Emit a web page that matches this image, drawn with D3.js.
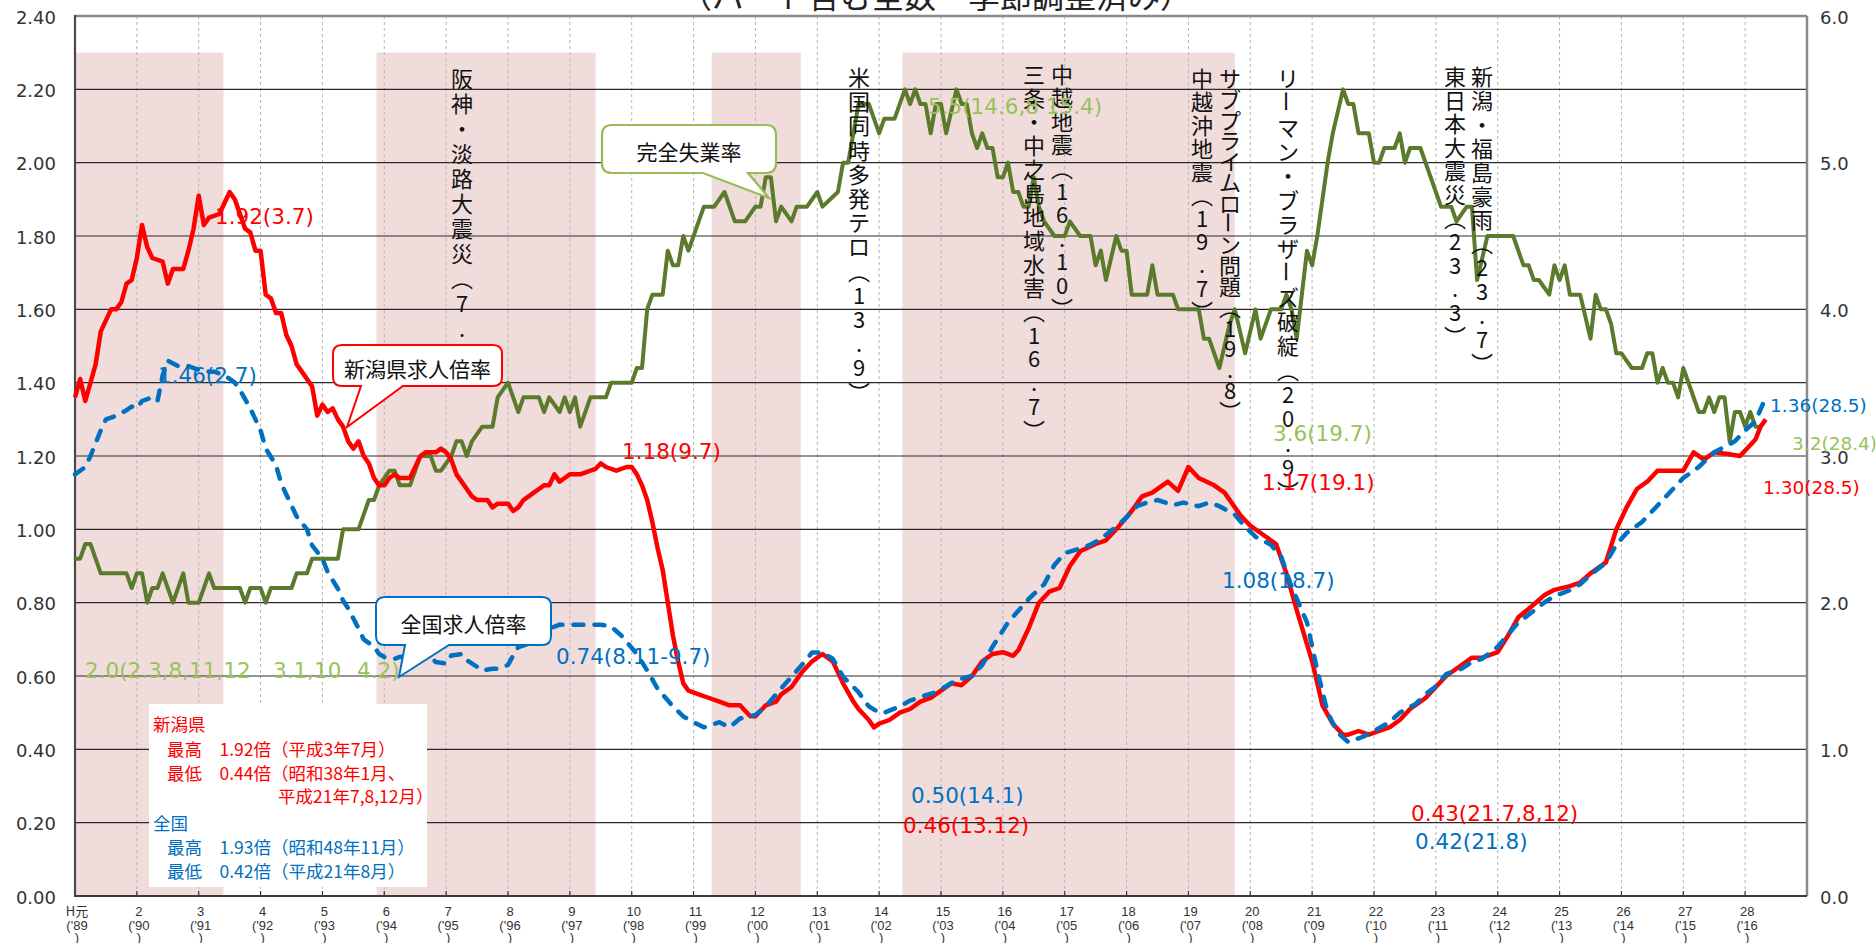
<!DOCTYPE html>
<html>
<head>
<meta charset="utf-8">
<script src="https://cdn.jsdelivr.net/npm/d3@7"></script>
<style>
  html, body { margin: 0; padding: 0; background: #fff; }
</style>
</head>
<body>
<div id="chart"></div>
<script>
// months counted from Jan 1989 (H元.1 = 0)
const niigataRatio = [[0,1.36],[1,1.41],[2,1.35],[4,1.45],[5,1.54],[7,1.60],[8,1.60],[9,1.62],[10,1.67],[11,1.68],[12,1.74],[13,1.83],[14,1.77],[15,1.74],[17,1.73],[18,1.67],[19,1.71],[21,1.71],[22,1.76],[23,1.82],[24,1.91],[25,1.83],[26,1.85],[28,1.86],[29,1.89],[30,1.92],[31,1.90],[32,1.86],[33,1.82],[34,1.81],[35,1.76],[36,1.76],[37,1.64],[38,1.63],[39,1.59],[40,1.59],[41,1.53],[42,1.50],[43,1.45],[44,1.43],[45,1.41],[46,1.39],[47,1.31],[48,1.34],[49,1.32],[50,1.33],[51,1.30],[52,1.28],[53,1.24],[54,1.22],[55,1.24],[56,1.20],[57,1.18],[58,1.14],[59,1.12],[60,1.12],[61,1.14],[62,1.15],[63,1.14],[65,1.14],[66,1.17],[67,1.20],[68,1.21],[70,1.21],[71,1.22],[72,1.21],[73,1.19],[74,1.15],[75,1.13],[76,1.11],[77,1.09],[78,1.08],[80,1.08],[81,1.06],[82,1.07],[84,1.07],[85,1.05],[86,1.06],[87,1.08],[88,1.09],[89,1.10],[90,1.11],[91,1.12],[92,1.12],[93,1.15],[94,1.13],[95,1.14],[96,1.15],[98,1.15],[100,1.16],[101,1.165],[102,1.18],[103,1.17],[105,1.16],[107,1.17],[108,1.17],[109,1.15],[110,1.12],[111,1.08],[112,1.02],[113,0.95],[114,0.89],[115,0.80],[116,0.71],[117,0.64],[118,0.58],[119,0.56],[121,0.55],[123,0.54],[125,0.53],[127,0.52],[129,0.52],[131,0.49],[132,0.49],[134,0.52],[136,0.53],[137,0.55],[139,0.57],[141,0.61],[143,0.64],[145,0.66],[147,0.64],[149,0.58],[151,0.53],[152,0.51],[154,0.48],[155,0.46],[156,0.47],[158,0.48],[160,0.50],[162,0.51],[164,0.53],[166,0.54],[168,0.56],[170,0.58],[172,0.575],[174,0.60],[176,0.64],[178,0.66],[180,0.665],[182,0.655],[183,0.67],[185,0.73],[187,0.80],[189,0.83],[191,0.84],[193,0.90],[195,0.94],[198,0.96],[200,0.97],[202,1.00],[205,1.05],[207,1.09],[209,1.10],[212,1.13],[214,1.105],[216,1.17],[218,1.14],[221,1.12],[223,1.10],[226,1.04],[228,1.01],[230,0.99],[233,0.96],[235,0.88],[237,0.78],[240,0.64],[242,0.52],[244,0.47],[246,0.44],[247,0.44],[249,0.45],[251,0.44],[253,0.45],[255,0.46],[257,0.48],[259,0.51],[262,0.54],[264,0.57],[266,0.60],[269,0.63],[271,0.65],[273,0.65],[276,0.665],[278,0.71],[280,0.76],[283,0.795],[285,0.82],[287,0.835],[290,0.845],[292,0.855],[294,0.88],[297,0.91],[299,1.00],[301,1.06],[303,1.11],[305,1.13],[307,1.16],[312,1.16],[314,1.21],[316,1.19],[318,1.21],[321,1.205],[323,1.20],[325,1.23],[326,1.245],[327,1.28],[328,1.30]];

const nationalRatio = [[0,1.15],[2,1.17],[3,1.20],[5,1.27],[6,1.30],[8,1.31],[10,1.325],[11,1.335],[12,1.33],[13,1.35],[15,1.36],[16,1.35],[17,1.42],[18,1.46],[20,1.445],[22,1.445],[24,1.435],[26,1.43],[27,1.43],[29,1.42],[31,1.40],[32,1.38],[34,1.33],[36,1.27],[37,1.22],[39,1.175],[40,1.125],[42,1.065],[43,1.035],[45,1.00],[46,0.956],[48,0.92],[49,0.884],[51,0.838],[52,0.806],[53,0.784],[55,0.73],[56,0.70],[58,0.68],[59,0.66],[60,0.652],[62,0.647],[63,0.652],[65,0.656],[67,0.66],[69,0.652],[70,0.638],[72,0.634],[73,0.656],[75,0.66],[76,0.643],[78,0.625],[79,0.615],[81,0.62],[82,0.62],[84,0.63],[85,0.656],[86,0.679],[88,0.688],[89,0.693],[91,0.71],[92,0.729],[94,0.74],[102,0.74],[104,0.735],[106,0.71],[109,0.66],[111,0.615],[113,0.566],[116,0.517],[118,0.49],[120,0.474],[122,0.46],[125,0.474],[127,0.46],[129,0.484],[132,0.494],[134,0.517],[136,0.55],[139,0.598],[141,0.63],[143,0.664],[145,0.664],[147,0.647],[149,0.598],[152,0.556],[154,0.517],[156,0.50],[157,0.50],[160,0.517],[162,0.533],[164,0.543],[167,0.556],[169,0.572],[171,0.589],[174,0.60],[176,0.63],[178,0.68],[181,0.746],[183,0.778],[185,0.81],[188,0.85],[190,0.903],[192,0.935],[195,0.948],[197,0.958],[199,0.974],[202,1.007],[204,1.033],[206,1.063],[208,1.073],[210,1.08],[213,1.066],[215,1.073],[218,1.063],[220,1.073],[222,1.063],[225,1.04],[227,1.007],[229,0.98],[232,0.958],[234,0.925],[236,0.844],[239,0.746],[241,0.615],[243,0.50],[245,0.445],[247,0.42],[250,0.435],[252,0.45],[255,0.474],[257,0.50],[260,0.523],[262,0.55],[264,0.572],[266,0.605],[269,0.62],[271,0.638],[273,0.647],[276,0.68],[278,0.713],[280,0.746],[283,0.778],[285,0.80],[287,0.818],[290,0.834],[292,0.85],[294,0.876],[297,0.909],[299,0.958],[301,0.99],[304,1.02],[306,1.05],[308,1.08],[310,1.11],[312,1.14],[315,1.17],[318,1.21],[322,1.24],[324,1.27],[326,1.295],[328,1.36]];

const unemploymentRate = [[0,2.3],[1,2.3],[2,2.4],[3,2.4],[5,2.2],[10,2.2],[11,2.1],[12,2.2],[13,2.2],[14,2.0],[15,2.1],[16,2.1],[17,2.2],[19,2.0],[21,2.2],[22,2.0],[24,2.0],[26,2.2],[27,2.1],[32,2.1],[33,2.0],[34,2.1],[36,2.1],[37,2.0],[38,2.1],[42,2.1],[43,2.2],[45,2.2],[46,2.3],[51,2.3],[52,2.5],[55,2.5],[57,2.7],[58,2.7],[59,2.8],[61,2.9],[62,2.9],[63,2.8],[65,2.8],[67,3.0],[69,3.0],[70,2.9],[71,2.9],[73,3.0],[74,3.1],[75,3.1],[76,3.0],[77,3.1],[79,3.2],[81,3.2],[82,3.4],[84,3.5],[85,3.4],[86,3.3],[87,3.4],[90,3.4],[91,3.3],[92,3.4],[94,3.3],[95,3.4],[96,3.3],[97,3.4],[98,3.2],[100,3.4],[103,3.4],[104,3.5],[108,3.5],[109,3.6],[110,3.6],[111,4.0],[112,4.1],[114,4.1],[115,4.4],[116,4.3],[117,4.3],[118,4.5],[119,4.4],[120,4.5],[122,4.7],[124,4.7],[126,4.8],[128,4.6],[130,4.6],[132,4.7],[133,4.7],[134,4.9],[135,4.9],[136,4.6],[137,4.7],[139,4.6],[140,4.7],[142,4.7],[144,4.8],[145,4.7],[148,4.8],[149,5.0],[150,5.0],[151,5.2],[152,5.4],[154,5.4],[155,5.3],[156,5.2],[157,5.3],[159,5.3],[161,5.5],[162,5.4],[163,5.5],[164,5.4],[165,5.4],[166,5.2],[167,5.4],[168,5.4],[169,5.2],[171,5.5],[172,5.4],[173,5.4],[174,5.2],[175,5.1],[176,5.2],[177,5.1],[178,5.1],[179,4.9],[180,4.9],[181,5.0],[182,4.8],[183,4.8],[184,4.7],[185,4.7],[186,4.9],[187,4.7],[188,4.6],[190,4.5],[192,4.5],[193,4.6],[195,4.5],[197,4.5],[198,4.3],[199,4.4],[200,4.2],[202,4.5],[203,4.4],[204,4.4],[205,4.1],[208,4.1],[209,4.3],[210,4.1],[213,4.1],[214,4.0],[218,4.0],[219,3.8],[220,3.8],[222,3.6],[224,3.9],[225,4.0],[227,3.7],[229,4.0],[230,3.8],[232,4.0],[234,4.0],[235,4.1],[236,4.0],[237,3.8],[239,4.4],[240,4.3],[241,4.5],[243,5.0],[244,5.2],[246,5.5],[247,5.4],[248,5.4],[249,5.2],[251,5.2],[252,5.0],[253,5.0],[254,5.1],[256,5.1],[257,5.2],[258,5.0],[259,5.1],[261,5.1],[265,4.7],[267,4.7],[268,4.6],[270,4.7],[271,4.7],[272,4.2],[274,4.5],[279,4.5],[281,4.3],[282,4.3],[283,4.2],[284,4.2],[286,4.1],[287,4.3],[288,4.2],[289,4.3],[290,4.1],[292,4.1],[294,3.8],[295,4.1],[296,4.0],[297,4.0],[298,3.9],[299,3.7],[300,3.7],[302,3.6],[304,3.6],[305,3.7],[306,3.7],[307,3.5],[308,3.6],[309,3.5],[310,3.5],[311,3.4],[312,3.6],[315,3.3],[316,3.3],[317,3.4],[318,3.3],[319,3.4],[320,3.4],[321,3.1],[322,3.3],[323,3.3],[324,3.2],[325,3.3],[326,3.2],[327,3.2]];

const yearLabels = ["H元","2","3","4","5","6","7","8","9","10","11","12","13","14","15","16","17","18","19","20","21","22","23","24","25","26","27","28"];
const yearShort = ["89","90","91","92","93","94","95","96","97","98","99","00","01","02","03","04","05","06","07","08","09","10","11","12","13","14","15","16"];
const leftTicks = [0, 0.2, 0.4, 0.6, 0.8, 1.0, 1.2, 1.4, 1.6, 1.8, 2.0, 2.2, 2.4];
const rightTicks = [0, 1, 2, 3, 4, 5, 6];
const boomPeriods = [[0, 28.8], [58.5, 101], [123.5, 140.8], [160.5, 225]];

const eventTexts = [
  "阪神・淡路大震災（7．1）",
  "米国同時多発テロ（13．9）",
  "三条・中之島地域水害（16．7）",
  "中越地震（16．10）",
  "中越沖地震（19．7）",
  "サブプライムローン問題（19．8）",
  "リーマン・ブラザーズ破綻（20．9）",
  "東日本大震災（23．3）",
  "新潟・福島豪雨（23．7）"
];
// column placement [x, first char y, step]
const eventLayout = [
  [462, 77, 25], [859, 76, 24.2], [1034, 73, 23.7], [1062, 73, 23.4],
  [1202, 77, 23.3], [1230, 77, 20.8], [1288, 77, 24.3], [1455, 75, 23.6], [1482, 75, 23.9]
];

const valueNotes = [
  ["1.92(3.7)", "red"], ["1.46(2.7)", "blue"], ["1.18(9.7)", "red"],
  ["0.74(8.11-9.7)", "blue"], ["2.0(2.3,8,11,12", "green"], ["3.1,10", "green"],
  ["4.2)", "green"], ["5.5(14.6,8 15.4)", "green"], ["3.6(19.7)", "green"],
  ["1.17(19.1)", "red"], ["1.08(18.7)", "blue"], ["0.50(14.1)", "blue"],
  ["0.46(13.12)", "red"], ["0.43(21.7,8,12)", "red"], ["0.42(21.8)", "blue"],
  ["1.36(28.5)", "blue"], ["3.2(28.4)", "green"], ["1.30(28.5)", "red"]
];
const noteLayout = [
  [215, 216, 21.5], [158, 375, 21.5], [622, 451, 21.5], [556, 656, 21.5], [85, 670, 21.5], [273, 670, 21.5],
  [357, 670, 21.5], [928, 106, 21.5], [1273, 433, 21.5], [1262, 482, 21.5], [1222, 580, 21.5], [911, 795, 21.5],
  [903, 825, 21.5], [1411, 813, 21.5], [1415, 841, 21.5], [1770, 405, 18.5], [1792, 443, 18.5], [1763, 487, 18.5]
];

const infoLines = [
  ["新潟県", "red"], ["最高　1.92倍（平成3年7月）", "red"], ["最低　0.44倍（昭和38年1月、", "red"],
  ["平成21年7,8,12月）", "red"], ["全国", "blue"], ["最高　1.93倍（昭和48年11月）", "blue"],
  ["最低　0.42倍（平成21年8月）", "blue"]
];

const colors = { red: "#FF0000", blue: "#0070C0", green: "#98C25A", line: "#5B7A2C" };
const jp = "'Noto Sans CJK JP', 'Noto Sans', sans-serif";

const W = 1876, H = 943;
const plotL = 75, plotR = 1807, plotT = 16, plotB = 896;

const svg = d3.select("#chart").append("svg")
  .attr("width", W).attr("height", H)
  .style("display", "block");

const x = d3.scaleLinear().domain([0, 336]).range([plotL, plotR]);
const y = d3.scaleLinear().domain([0, 2.4]).range([plotB, plotT]);
const yR = d3.scaleLinear().domain([0, 6]).range([plotB, plotT]);

// title (mostly cut off at the top)
svg.append("text")
  .attr("x", 936).attr("y", 8)
  .attr("text-anchor", "middle")
  .attr("font-family", jp).attr("font-size", 32).attr("fill", "#222")
  .text("（パート含む全数・季節調整済み）");

// shaded periods
svg.append("g").selectAll("rect").data(boomPeriods).join("rect")
  .attr("x", d => x(d[0])).attr("width", d => x(d[1]) - x(d[0]))
  .attr("y", y(2.3)).attr("height", plotB - y(2.3))
  .attr("fill", "#F1DCDC");

// vertical dashed grid
svg.append("g").selectAll("line").data(d3.range(1, 28)).join("line")
  .attr("x1", d => x(d * 12)).attr("x2", d => x(d * 12))
  .attr("y1", plotT).attr("y2", plotB)
  .attr("stroke", "#b4b4b4").attr("stroke-width", 1).attr("stroke-dasharray", "3,3");

// horizontal grid
svg.append("g").selectAll("line").data(leftTicks.slice(1, -1)).join("line")
  .attr("x1", plotL).attr("x2", plotR)
  .attr("y1", d => y(d)).attr("y2", d => y(d))
  .attr("stroke", "#2a2a2a").attr("stroke-width", 1.2);

// frame
svg.append("line").attr("x1", plotL).attr("x2", plotR).attr("y1", plotT).attr("y2", plotT)
  .attr("stroke", "#8a8a8a").attr("stroke-width", 2.5);
svg.append("line").attr("x1", plotR).attr("x2", plotR).attr("y1", plotT).attr("y2", plotB)
  .attr("stroke", "#8a8a8a").attr("stroke-width", 2.5);
svg.append("line").attr("x1", plotL).attr("x2", plotL).attr("y1", plotT - 1).attr("y2", plotB + 1)
  .attr("stroke", "#4a4a4a").attr("stroke-width", 2.2);
svg.append("line").attr("x1", plotL).attr("x2", plotR).attr("y1", plotB).attr("y2", plotB)
  .attr("stroke", "#3a3a3a").attr("stroke-width", 2.2);
svg.append("g").selectAll("line").data(d3.range(1, 28)).join("line")
  .attr("x1", d => x(d * 12)).attr("x2", d => x(d * 12))
  .attr("y1", plotB - 5).attr("y2", plotB)
  .attr("stroke", "#3a3a3a").attr("stroke-width", 1.2);

// axis labels
svg.append("g").selectAll("text").data(leftTicks).join("text")
  .attr("x", 56).attr("y", d => y(d) + 1)
  .attr("text-anchor", "end").attr("dominant-baseline", "central")
  .attr("font-family", "'DejaVu Sans', sans-serif").attr("font-size", 18).attr("fill", "#333")
  .text(d => d.toFixed(2));
svg.append("g").selectAll("text").data(rightTicks).join("text")
  .attr("x", 1820).attr("y", d => yR(d) + 1)
  .attr("dominant-baseline", "central")
  .attr("font-family", "'DejaVu Sans', sans-serif").attr("font-size", 18).attr("fill", "#333")
  .text(d => d.toFixed(1));

const xl = svg.append("g").attr("font-family", "'Liberation Sans', Arial, sans-serif")
  .attr("font-size", 13).attr("fill", "#333").attr("text-anchor", "middle");
yearLabels.forEach((lab, i) => {
  const cx = x(i * 12) + 2;
  xl.append("text").attr("x", cx).attr("y", 916).attr("font-family", i === 0 ? jp : null).text(lab);
  xl.append("text").attr("x", cx).attr("y", 930).text("('" + yearShort[i]);
  xl.append("text").attr("x", cx).attr("y", 942).text(")");
});

// info box
svg.append("rect").attr("x", 149).attr("y", 704).attr("width", 278).attr("height", 183).attr("fill", "#fff");
const infoPos = [[153, 723], [167, 748], [167, 772], [278, 795], [153, 822], [167, 846], [167, 870]];
svg.append("g").selectAll("text").data(infoLines).join("text")
  .attr("x", (d, i) => infoPos[i][0]).attr("y", (d, i) => infoPos[i][1])
  .attr("dominant-baseline", "central")
  .attr("font-family", jp).attr("font-size", 17.5)
  .attr("fill", d => colors[d[1]])
  .text(d => d[0]);

// series
const line = d3.line().x(d => x(d[0]));
svg.append("path").datum(unemploymentRate)
  .attr("d", line.y(d => yR(d[1])))
  .attr("fill", "none").attr("stroke", colors.line).attr("stroke-width", 4)
  .attr("stroke-linejoin", "round");
svg.append("path").datum(niigataRatio)
  .attr("d", line.y(d => y(d[1])))
  .attr("fill", "none").attr("stroke", colors.red).attr("stroke-width", 4.5)
  .attr("stroke-linejoin", "round");
svg.append("path").datum(nationalRatio)
  .attr("d", line.y(d => y(d[1])))
  .attr("fill", "none").attr("stroke", colors.blue).attr("stroke-width", 4.5)
  .attr("stroke-dasharray", "10,11").attr("stroke-linecap", "round").attr("stroke-linejoin", "round");

// event columns (vertical text)
const ev = svg.append("g").attr("font-family", jp).attr("font-size", 22).attr("fill", "#111");
eventTexts.forEach((str, k) => {
  const [cx, y0, step] = eventLayout[k];
  Array.from(str).forEach((ch, i) => {
    const cy = y0 + i * step;
    let c = ch;
    if (ch === "（") c = "︵";
    if (ch === "）") c = "︶";
    if (ch === "．") c = ".";
    const t = ev.append("text").attr("x", cx).attr("y", cy)
      .attr("text-anchor", "middle").attr("dominant-baseline", "central").text(c);
    if (ch === "ー") t.attr("transform", `rotate(90,${cx},${cy})`);
  });
});

// value notes
svg.append("g").selectAll("text").data(valueNotes).join("text")
  .attr("x", (d, i) => noteLayout[i][0]).attr("y", (d, i) => noteLayout[i][1])
  .attr("font-size", (d, i) => noteLayout[i][2])
  .attr("dominant-baseline", "central")
  .attr("font-family", "'DejaVu Sans', sans-serif")
  .attr("fill", d => colors[d[1]])
  .text(d => d[0]);

// callouts
function bubble(x0, y0, x1, y1, r, b1, b2, tx, ty) {
  return `M${x0 + r},${y0} H${x1 - r} Q${x1},${y0} ${x1},${y0 + r} V${y1 - r} Q${x1},${y1} ${x1 - r},${y1}` +
    ` H${b2} L${tx},${ty} L${b1},${y1} H${x0 + r} Q${x0},${y1} ${x0},${y1 - r} V${y0 + r} Q${x0},${y0} ${x0 + r},${y0} Z`;
}
const callouts = [
  { text: "新潟県求人倍率", box: [333, 345, 502, 386, 9, 361, 403, 347, 427], stroke: colors.red, w: 2 },
  { text: "完全失業率", box: [602, 125, 776, 173, 10, 703, 748, 769, 198], stroke: "#9BBB59", w: 2.2 },
  { text: "全国求人倍率", box: [376, 597, 551, 645, 9, 405, 449, 399, 677], stroke: colors.blue, w: 2 }
];
callouts.forEach(c => {
  const b = c.box;
  svg.append("path").attr("d", bubble(...b))
    .attr("fill", "#fff").attr("stroke", c.stroke).attr("stroke-width", c.w);
  svg.append("text").attr("x", (b[0] + b[2]) / 2).attr("y", (b[1] + b[3]) / 2 + 2)
    .attr("text-anchor", "middle").attr("dominant-baseline", "central")
    .attr("font-family", jp).attr("font-size", 21).attr("fill", "#111")
    .text(c.text);
});
</script>
</body>
</html>
